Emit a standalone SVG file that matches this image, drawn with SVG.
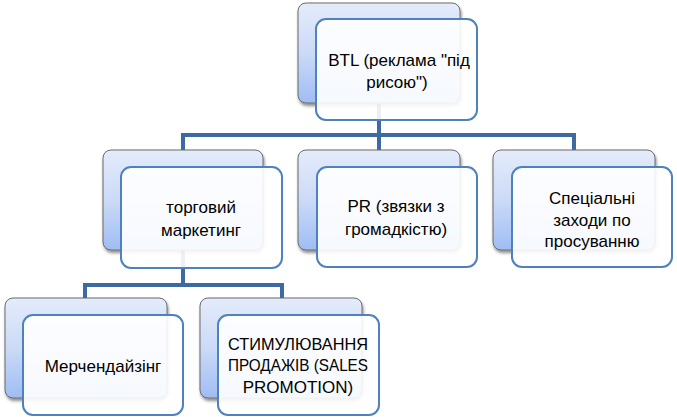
<svg xmlns="http://www.w3.org/2000/svg" width="677" height="417" viewBox="0 0 677 417">
<defs>
<linearGradient id="g" x1="0" y1="0" x2="0" y2="1">
<stop offset="0" stop-color="#e4ecfb"/>
<stop offset="0.5" stop-color="#cbdaf7"/>
<stop offset="1" stop-color="#9fbdf3"/>
</linearGradient>
<filter id="sh" x="-10%" y="-10%" width="125%" height="130%">
<feDropShadow dx="1" dy="2.5" stdDeviation="1.8" flood-color="#000" flood-opacity="0.45"/>
</filter>
</defs>
<style>
.back{fill:url(#g);stroke:#6b6b6b;stroke-width:1;filter:url(#sh)}
.front{fill:#ffffff;fill-opacity:0.9;stroke:#4f81bd;stroke-width:2}
.conn{fill:none;stroke:#3d6aa1;stroke-width:4}
text{font-family:"Liberation Sans",Arial,sans-serif;font-size:17px;fill:#000;text-anchor:middle}
</style>
<g id="connectors">
<path class="conn" d="M379 103V135M183 150V135H574V150M379 135V150"/>
<path class="conn" d="M183 250V285M85 298V285H282V298"/>
</g>
<g id="node-btl">
<rect class="back" x="298" y="3" width="162" height="100" rx="8"/>
<rect class="front" x="316" y="19" width="161" height="101" rx="10"/>
<text x="399" y="66">BTL (реклама "під</text>
<text x="397" y="88">рисою")</text>
</g>
<g id="node-trade">
<rect class="back" x="103" y="150" width="160" height="100" rx="8"/>
<rect class="front" x="121" y="167" width="161" height="101" rx="10"/>
<text x="201" y="213">торговий</text>
<text x="201" y="236">маркетинг</text>
</g>
<g id="node-pr">
<rect class="back" x="298" y="150" width="162" height="100" rx="8"/>
<rect class="front" x="317" y="167" width="160" height="100" rx="10"/>
<text x="396" y="212">PR (звязки з</text>
<text x="396" y="235">громадкістю)</text>
</g>
<g id="node-special">
<rect class="back" x="493" y="150" width="162" height="100" rx="8"/>
<rect class="front" x="512" y="167" width="160" height="100" rx="10"/>
<text x="592" y="204">Спеціальні</text>
<text x="592" y="226">заходи по</text>
<text x="592" y="247">просуванню</text>
</g>
<g id="node-merch">
<rect class="back" x="5" y="298" width="162" height="100" rx="8"/>
<rect class="front" x="23" y="315" width="160" height="100" rx="10"/>
<text x="103" y="372">Мерчендайзінг</text>
</g>
<g id="node-sales">
<rect class="back" x="200" y="298" width="162" height="100" rx="8"/>
<rect class="front" x="218" y="315" width="161" height="100" rx="10"/>
<text x="298" y="350" textLength="140" lengthAdjust="spacingAndGlyphs">СТИМУЛЮВАННЯ</text>
<text x="298" y="371" textLength="140" lengthAdjust="spacingAndGlyphs">ПРОДАЖІВ (SALES</text>
<text x="298" y="393">PROMOTION)</text>
</g>
</svg>
